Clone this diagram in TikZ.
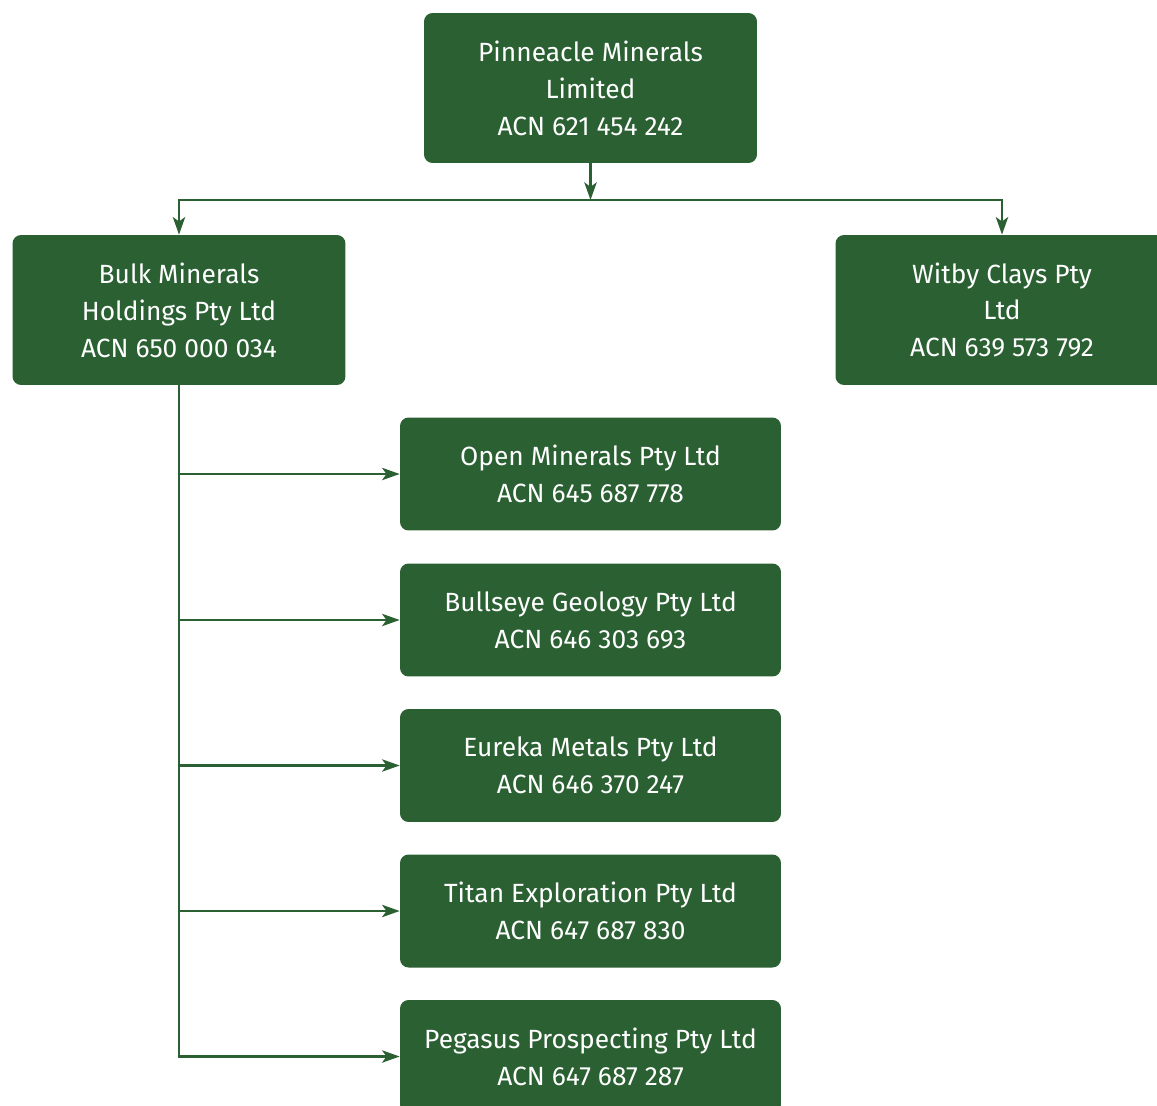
\documentclass[tikz,border=0pt]{standalone}
\usepackage{fontspec}
\setmainfont{Fira Sans}
\usetikzlibrary{arrows.meta,positioning}
\definecolor{orggreen}{RGB}{42,96,50}
\tikzset{
  entity/.style  = {fill=orggreen, rounded corners=0.17cm, text=white,
                    minimum width=6.66cm, minimum height=3.0cm, inner sep=0pt,
                    align=center, font=\fontsize{15}{21}\selectfont},
  subco/.style   = {entity, minimum width=7.62cm, minimum height=2.26cm},
  arr/.style     = {-{Stealth[length=10pt,width=7pt,inset=2.5pt]},
                    line width=1.4pt, orggreen}
}

\begin{document}
\begin{tikzpicture}[x=0.02cm, y=-0.02cm]
    \useasboundingbox (0,0) rectangle (1157,1106);
    % Parent
    \node[entity](parent) at (590.5, 88)  {Pinneacle Minerals\\Limited\\ACN 621 454 242};
    \coordinate (hub) at (590.5, 200);
    % Direct subsidiaries
    \node[entity](bulk)   at (179, 310)   {Bulk Minerals\\Holdings Pty Ltd\\ACN 650 000 034};
    \node[entity](witby)  at (1002, 310)  {Witby Clays Pty\\Ltd\\ACN 639 573 792};
    % Under Bulk Minerals
    \node[subco](open)    at (590.5, 474)  {Open Minerals Pty Ltd\\ACN 645 687 778};
    \node[subco](bull)    at (590.5, 620)  {Bullseye Geology Pty Ltd\\ACN 646 303 693};
    \node[subco](eureka)  at (590.5, 765.5){Eureka Metals Pty Ltd\\ACN 646 370 247};
    \node[subco](titan)   at (590.5, 911)  {Titan Exploration Pty Ltd\\ACN 647 687 830};
    \node[subco](pegasus) at (590.5, 1056.5){Pegasus Prospecting Pty Ltd\\ACN 647 687 287};

    \draw[arr](parent.south)--(hub);
    \draw[arr](hub) -| (bulk.north);
    \draw[arr](hub) -| (witby.north);
    \foreach \c in {open,bull,eureka,titan,pegasus}
      \draw[arr](bulk.south) |- (\c.west);
\end{tikzpicture}
\end{document}
